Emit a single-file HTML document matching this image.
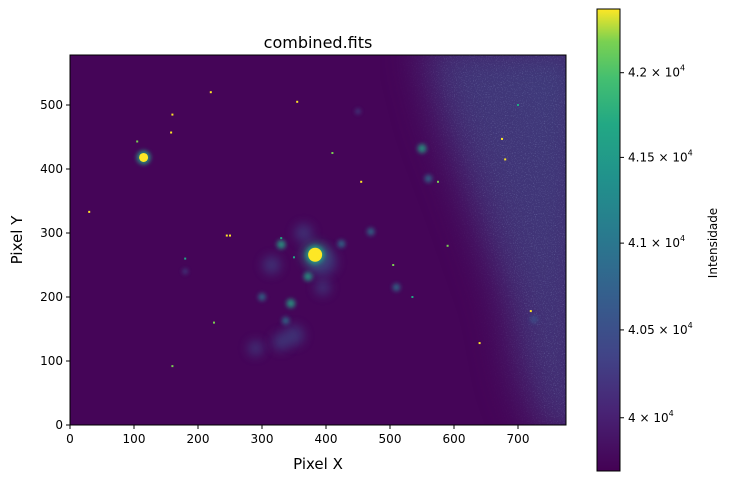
<!DOCTYPE html>
<html><head><meta charset="utf-8"><style>
body{margin:0;background:#fff;font-family:"Liberation Sans","DejaVu Sans",sans-serif}
svg text{font-family:"DejaVu Sans","Liberation Sans",sans-serif}
</style></head><body>
<svg id="fig" width="730" height="482" viewBox="0 0 730 482">
<defs>
<linearGradient id="vir" x1="0" y1="1" x2="0" y2="0">
<stop offset="0" stop-color="#440154"/><stop offset="0.13" stop-color="#482475"/><stop offset="0.25" stop-color="#414487"/><stop offset="0.38" stop-color="#355f8d"/><stop offset="0.5" stop-color="#2a788e"/><stop offset="0.63" stop-color="#21918c"/><stop offset="0.75" stop-color="#22a884"/><stop offset="0.85" stop-color="#44bf70"/><stop offset="0.93" stop-color="#7ad151"/><stop offset="1" stop-color="#fde725"/>
</linearGradient>
<linearGradient id="bgGrad" x1="0" y1="1" x2="1" y2="0">
<stop offset="0" stop-color="#461a66"/><stop offset="0.5" stop-color="#41407f"/><stop offset="1" stop-color="#3c5088"/>
</linearGradient>
<filter id="b2" x="-1" y="-1" width="3" height="3"><feGaussianBlur stdDeviation="2"/></filter>
<filter id="b5" x="-1" y="-1" width="3" height="3"><feGaussianBlur stdDeviation="5"/></filter>
<filter id="b20" x="-0.5" y="-0.5" width="2" height="2"><feGaussianBlur stdDeviation="20"/></filter>
<filter id="noise"><feTurbulence type="fractalNoise" baseFrequency="0.9" numOctaves="1" seed="3"/><feColorMatrix values="0 0 0 0 0.25  0 0 0 0 0.3  0 0 0 0 0.55  0 0 0 1.6 -0.9"/></filter>
<mask id="rmask"><polygon points="500,40 590,40 590,440 545,440 520,380 505,300 470,200 440,120 420,40" fill="#fff" filter="url(#b20)"/></mask>
<clipPath id="clip"><rect x="70" y="55" width="496" height="370"/></clipPath>
</defs>
<text x="318" y="48" font-size="16" text-anchor="middle" fill="#000">combined.fits</text>
<g id="img" clip-path="url(#clip)">
<rect x="70" y="55" width="496" height="370" fill="#450558"/>
<g mask="url(#rmask)">
<rect x="380" y="40" width="200" height="400" fill="url(#bgGrad)" opacity="0.75"/>
<rect x="380" y="40" width="200" height="400" filter="url(#noise)"/>
</g>
<g id="glows"></g>
<g id="stars"></g>
</g>
<rect x="70" y="55" width="496" height="370" fill="none" stroke="#000" stroke-width="1"/>
<g id="xaxis"></g>
<g id="yaxis"></g>
<text x="318" y="469" font-size="15" text-anchor="middle">Pixel X</text>
<text transform="translate(22,240) rotate(-90)" font-size="15" text-anchor="middle">Pixel Y</text>
<rect x="597" y="9" width="23" height="462" fill="url(#vir)" stroke="#000" stroke-width="1"/>
<g id="cbar"></g>
<text transform="translate(717,243) rotate(-90)" font-size="12" text-anchor="middle">Intensidade</text>
</svg>
<script>
const xTicks=[0,100,200,300,400,500,600,700];
const yTicks=[0,100,200,300,400,500];
const cbTicks=[40000,40500,41000,41500,42000];
const cbLabels=["4","4.05","4.1","4.15","4.2"];
// extended sources: x, y, radius (data px), brightness 0..1
const glowX=[383,330,345,372,337,424,470,510,550,560,300,450,725,395,315,365,395,350,330,290,180];
const glowY=[266,282,190,232,163,283,302,215,432,385,200,490,165,255,250,300,215,140,130,120,240];
const glowR=[20,7,7,7,6,6,6,6,7,6,6,4,6,22,14,14,12,16,14,12,4];
const glowV=[0.55,0.6,0.6,0.55,0.5,0.45,0.4,0.45,0.55,0.45,0.4,0.35,0.35,0.25,0.25,0.25,0.3,0.2,0.2,0.15,0.3];
// point sources
const starX=[383,115,160,220,30,355,455,410,575,158,680,675,250,245,640,720,505,180,700,105,225,590,330,350,535,160];
const starY=[266,418,485,520,333,505,380,425,380,457,415,447,296,296,128,178,250,260,500,443,160,280,292,262,200,92];
const starV=[1,1,1,1,1,1,1,0.9,0.9,1,1,1,1,1,1,1,0.9,0.7,0.7,0.9,0.8,0.8,0.7,0.7,0.6,0.9];
const X0=70,Y0=425,S=0.64;
const px=v=>X0+v*S, py=v=>Y0-v*S;
const NS="http://www.w3.org/2000/svg";
function mk(t,a,p){const e=document.createElementNS(NS,t);for(const k in a)e.setAttribute(k,a[k]);p.appendChild(e);return e;}
const vc=v=>v>0.9?"#fde725":v>0.7?"#7ad151":v>0.5?"#22a884":v>0.35?"#2a788e":"#3b528b";
const G=document.getElementById('glows');
glowX.forEach((x,i)=>{
 const c=mk('circle',{cx:px(x),cy:py(glowY[i]),r:glowR[i]*S,fill:vc(glowV[i]),filter:glowR[i]>10?'url(#b5)':'url(#b2)',opacity:glowR[i]>10?0.55:0.8},G);
 
 
});
const St=document.getElementById('stars');
starX.forEach((x,i)=>{
 const big=i<2;
 let c;
 if(big){mk('circle',{cx:px(x),cy:py(starY[i]),r:i==0?9:7,fill:'#22a884',filter:'url(#b2)',opacity:0.8},St);
  c=mk('circle',{cx:px(x),cy:py(starY[i]),r:i==0?7:4.5,fill:'#fde725'},St);}
 else c=mk('rect',{x:px(x)-1,y:py(starY[i])-1,width:2,height:2,fill:vc(starV[i])},St);
 
 
});
const XA=document.getElementById('xaxis');
xTicks.forEach(t=>{mk('line',{x1:px(t),x2:px(t),y1:425,y2:429,stroke:'#000'},XA);
 const tx=mk('text',{x:px(t),y:443,'font-size':12,'text-anchor':'middle'},XA);tx.textContent=t;
 });
const YA=document.getElementById('yaxis');
yTicks.forEach(t=>{mk('line',{x1:66,x2:70,y1:py(t),y2:py(t),stroke:'#000'},YA);
 const tx=mk('text',{x:63,y:py(t)+4,'font-size':12,'text-anchor':'end'},YA);tx.textContent=t;
 });
// colorbar log scale
const cmin=39700,cmax=42380,cT=9,cB=471;
const cy=v=>cB-(Math.log(v)-Math.log(cmin))/(Math.log(cmax)-Math.log(cmin))*(cB-cT);
const CB=document.getElementById('cbar');
cbTicks.forEach((t,i)=>{mk('line',{x1:620,x2:624,y1:cy(t),y2:cy(t),stroke:'#000'},CB);
 const tx=mk('text',{x:628,y:cy(t)+4,'font-size':12},CB);
 tx.textContent=cbLabels[i]+" \u00d7 10";
 const s=mk('tspan',{dy:-6,'font-size':8},tx);s.textContent="4";
 });
</script>
</body></html>
